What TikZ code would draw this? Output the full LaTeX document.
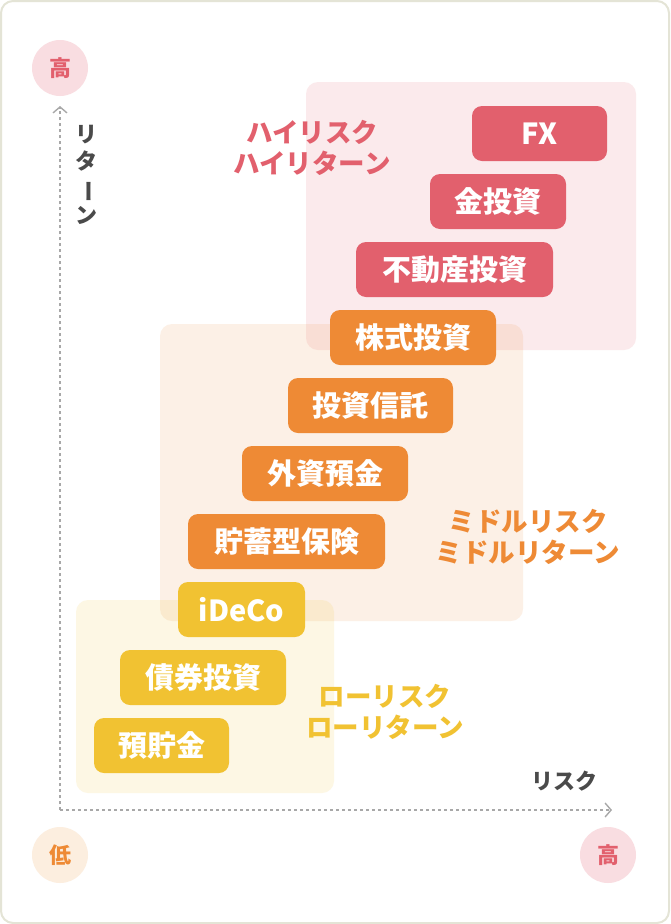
\documentclass[tikz,border=0pt]{standalone}
\usepackage{fontspec}
\usepackage{graphicx}
\usetikzlibrary{arrows.meta}
\newfontfamily\jp{Noto Sans CJK JP Black}
\definecolor{cred}{HTML}{E2606D}
\definecolor{corange}{HTML}{EE8A35}
\definecolor{cyellow}{HTML}{F1C232}
\definecolor{cpinkbg}{HTML}{F9DDE1}
\definecolor{cpeachbg}{HTML}{FCEEDF}
\definecolor{cframe}{HTML}{E4E4D6}
\definecolor{caxis}{HTML}{A8A8A8}
\definecolor{ctext}{HTML}{4A4A4A}
\tikzset{
  box/.style={rounded corners=10pt, minimum height=55pt, inner sep=0pt, text=white, font=\jp\fontsize{29}{30}\selectfont},
  region/.style={rounded corners=12pt},
  zonelabel/.style={align=center, font=\jp\fontsize{26.5}{31}\selectfont, inner sep=0pt},
  badge/.style={circle, minimum size=56pt, inner sep=0pt, font=\jp\fontsize{22}{24}\selectfont},
  axisline/.style={draw=caxis, line width=1.4pt, dash pattern=on 3pt off 3pt, -{Straight Barb[length=6pt,width=14pt,line width=1.4pt]}, dash pattern=on 3pt off 3pt}
}
\begin{document}
\begin{tikzpicture}[x=1pt,y=-1pt]
\useasboundingbox (0,0) rectangle (670,924);
\draw[cframe, line width=2pt, rounded corners=12pt, fill=white] (1,1) rectangle (669,923);
% regions
\fill[region, cred, opacity=0.13] (306,82) rectangle (636,350);
\fill[region, corange, opacity=0.12] (160,324) rectangle (523,621);
\fill[region, cyellow, opacity=0.13] (76,600) rectangle (334,793);
% axes
\coordinate (origin) at (60,810);
\coordinate (ytip) at (60,106);
\coordinate (xtip) at (612,810);
\draw[axisline] (origin) -- (ytip);
\draw[axisline] (origin) -- (xtip);
% badges
\node[badge, fill=cpinkbg, text=cred] (hiY) at (60,68) {高};
\node[badge, fill=cpeachbg, text=corange] (lo) at (60,855) {低};
\node[badge, fill=cpinkbg, text=cred] (hiX) at (608,855) {高};
% axis labels
\node[align=center, text=ctext, inner sep=0pt, font=\jp\fontsize{22}{27}\selectfont] (ret) at (86,175) {リ\\タ\\\rotatebox[origin=c]{-90}{ー}\\ン};
\node[text=ctext, inner sep=0pt, font=\jp\fontsize{22}{24}\selectfont] (risk) at (564,781) {リスク};
% zone labels
\node[zonelabel, text=cred] (zhigh) at (312,148) {ハイリスク\\ハイリターン};
\node[zonelabel, text=corange] (zmid) at (528,537) {ミドルリスク\\ミドルリターン};
\node[zonelabel, text=cyellow] (zlow) at (385,712) {ローリスク\\ローリターン};
% boxes
\node[box, fill=cred, minimum width=135pt] (fx) at (539.5,133.5) {FX};
\node[box, fill=cred, minimum width=136pt] (gold) at (498,201.5) {金投資};
\node[box, fill=cred, minimum width=197pt] (estate) at (454.5,269.5) {不動産投資};
\node[box, fill=corange, minimum width=166pt] (stock) at (413,337.5) {株式投資};
\node[box, fill=corange, minimum width=165pt] (fund) at (370.5,405.5) {投資信託};
\node[box, fill=corange, minimum width=166pt] (forex) at (325,473.5) {外資預金};
\node[box, fill=corange, minimum width=197pt] (insur) at (286.5,541.5) {貯蓄型保険};
\node[box, fill=cyellow, minimum width=127pt] (ideco) at (241.5,609.5) {iDeCo};
\node[box, fill=cyellow, minimum width=166pt] (bond) at (203,677.5) {債券投資};
\node[box, fill=cyellow, minimum width=135pt] (save) at (161.5,745.5) {預貯金};
\end{tikzpicture}
\end{document}
